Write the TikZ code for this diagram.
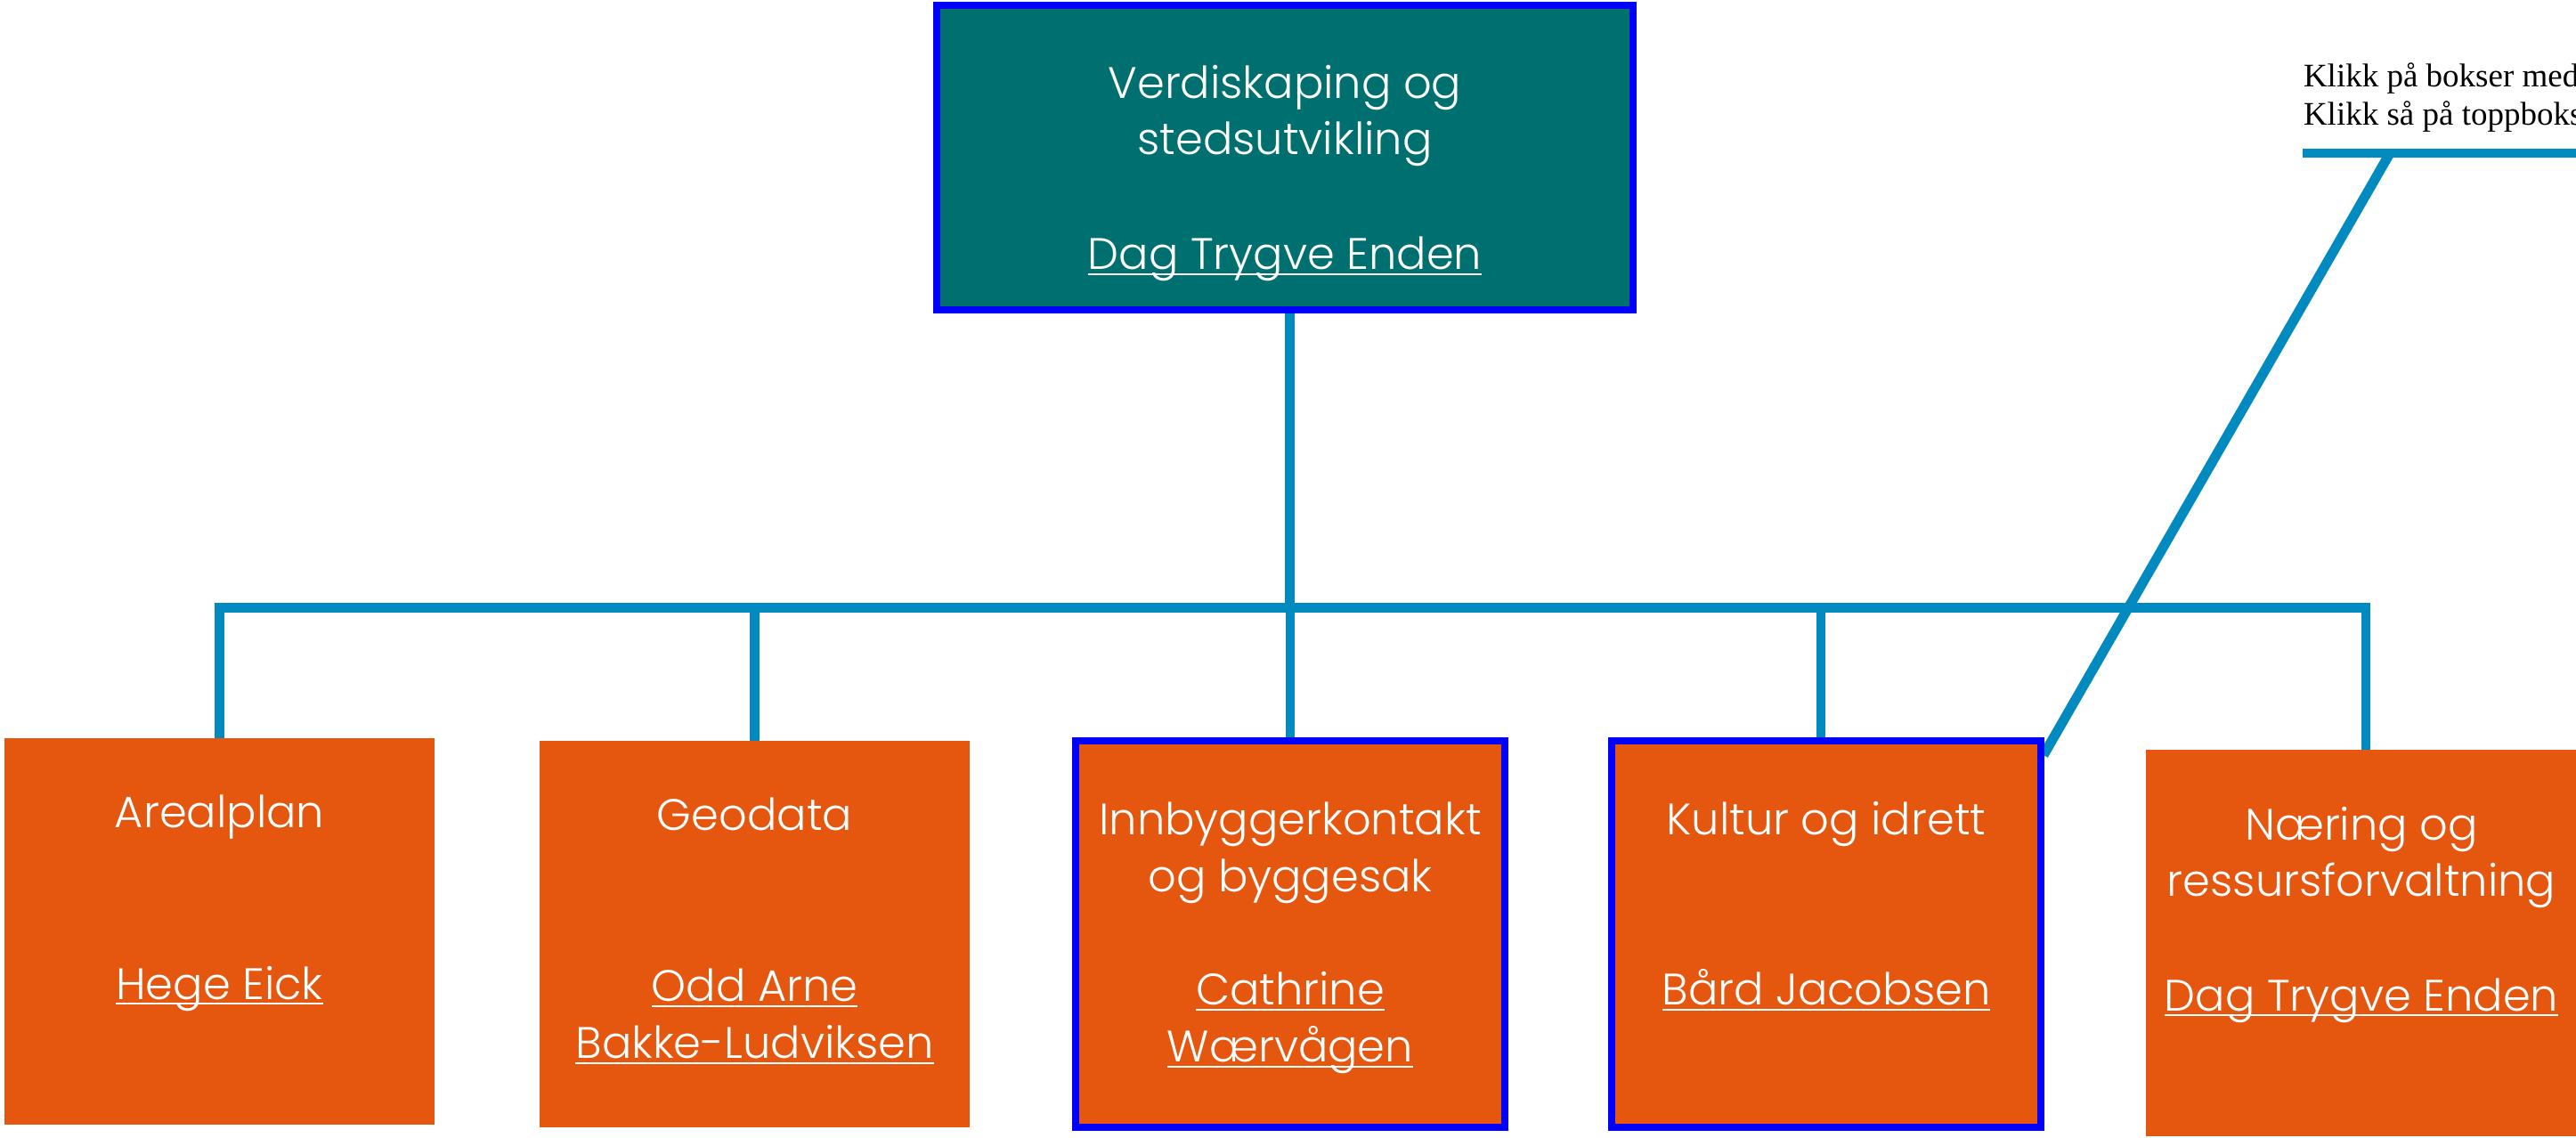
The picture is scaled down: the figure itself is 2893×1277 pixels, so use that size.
\documentclass[tikz,border=0pt]{standalone}
\usepackage{fontspec}
\IfFontExistsTF{Poppins Light}{\newfontfamily\boxfont{Poppins Light}}{\newfontfamily\boxfont{Poppins}}
\newfontfamily\notefont{Liberation Serif}
\definecolor{tealbox}{RGB}{0,111,111}
\definecolor{orangebox}{RGB}{229,86,15}
\definecolor{linkblue}{RGB}{0,138,192}
\pgfdeclarelayer{bg}
\pgfsetlayers{bg,main}
\begin{document}
\begin{tikzpicture}[x=1pt,y=-1pt,
  conn/.style={draw=linkblue, line width=10.5pt},
  obox/.style={rectangle, fill=orangebox, inner sep=0pt, outer sep=0pt, minimum width=483pt, minimum height=434pt},
  bbox/.style={rectangle, fill=orangebox, draw=blue, line width=8pt, inner sep=0pt, outer sep=0pt, minimum width=482pt, minimum height=434pt},
  topbox/.style={rectangle, fill=tealbox, draw=blue, line width=8pt, inner sep=0pt, outer sep=0pt, minimum width=782pt, minimum height=342pt},
  lbl/.style={anchor=base, inner sep=0pt, outer sep=0pt, text=white, font=\boxfont\fontsize{49.5}{64}\selectfont},
  uline/.style={draw=white, line width=2.5pt},
  note/.style={anchor=base west, inner sep=0pt, outer sep=0pt, text=black, font=\notefont\fontsize{37}{43}\selectfont}]

\useasboundingbox (0,0) rectangle (2893,1277);
\clip (0,0) rectangle (2893,1277);

% boxes
\node[topbox] (top) at (1443,177) {};
\node[obox] (b1) at (246.5,1046) {};
\node[obox] (b2) at (847.5,1049) {};
\node[bbox] (b3) at (1449,1049) {};
\node[bbox] (b4) at (2051,1049) {};
\node[obox, minimum width=484pt] (b5) at (2652,1059) {};

% connectors
\coordinate (bus) at (1448.5,682.5);
\coordinate (d0) at ([xshift=5.5pt]top.south);
\coordinate (d4) at ([xshift=-6pt]b4.north);
\coordinate (d5) at ([xshift=5pt]b5.north);
\coordinate (noteL) at (2586,172);
\coordinate (noteP) at (2684,172);
\coordinate (noteR) at (2900,172);
\coordinate (diagEnd) at ([shift={(3pt,-16pt)}]b4.north east);
\begin{pgfonlayer}{bg}
  \draw[conn] (d0) -- (bus);
  \draw[conn] (b1.north) |- (bus) -| (d5);
  \draw[conn] (b2.north) -- (b2.north |- bus);
  \draw[conn] (b3.north) -- (b3.north |- bus);
  \draw[conn] (d4) -- (d4 |- bus);
  \draw[conn] (noteL) -- (noteR);
  \draw[conn, line width=11pt] (noteP) -- (diagEnd);
\end{pgfonlayer}

% top box text
\node[lbl] (t0a) at (1443,110) {Verdiskaping og};
\node[lbl] (t0b) at (1443,173) {stedsutvikling};
\node[lbl] (t0c) at (1443,302) {Dag Trygve Enden};
\draw[uline] ([yshift=-6pt]t0c.base west) -- ([yshift=-6pt]t0c.base east);

% box 1
\node[lbl] (t1a) at (246.5,929) {Arealplan};
\node[lbl] (t1b) at (246.5,1122) {Hege Eick};
\draw[uline] ([yshift=-5pt]t1b.base west) -- ([yshift=-5pt]t1b.base east);

% box 2
\node[lbl] (t2a) at (847.5,932) {Geodata};
\node[lbl] (t2b) at (847.5,1124) {Odd Arne\ };
\node[lbl] (t2c) at (847.5,1188) {Bakke-Ludviksen};
\draw[uline] ([yshift=-6pt]t2b.base west) -- ([yshift=-6pt]t2b.base east);
\draw[uline] ([yshift=-6pt]t2c.base west) -- ([yshift=-6pt]t2c.base east);

% box 3
\node[lbl] (t3a) at (1449,937) {Innbyggerkontakt};
\node[lbl] (t3b) at (1449,1001) {og byggesak};
\node[lbl] (t3c) at (1449,1128) {Cathrine\ };
\node[lbl] (t3d) at (1449,1192) {Wærvågen};
\draw[uline] ([yshift=-6pt]t3c.base west) -- ([yshift=-6pt]t3c.base east);
\draw[uline] ([yshift=-6pt]t3d.base west) -- ([yshift=-6pt]t3d.base east);

% box 4
\node[lbl] (t4a) at (2051,937) {Kultur og idrett};
\node[lbl] (t4b) at (2051,1128) {Bård Jacobsen};
\draw[uline] ([yshift=-6pt]t4b.base west) -- ([yshift=-6pt]t4b.base east);

% box 5
\node[lbl] (t5a) at (2652,943) {Næring og};
\node[lbl] (t5b) at (2652,1006) {ressursforvaltning};
\node[lbl] (t5c) at (2652,1135) {Dag Trygve Enden};
\draw[uline] ([yshift=-5pt]t5c.base west) -- ([yshift=-5pt]t5c.base east);

% note
\node[note] (n1) at (2587,97) {Klikk på bokser med};
\node[note] (n2) at (2587,140) {Klikk så på toppboks};
\end{tikzpicture}
\end{document}
